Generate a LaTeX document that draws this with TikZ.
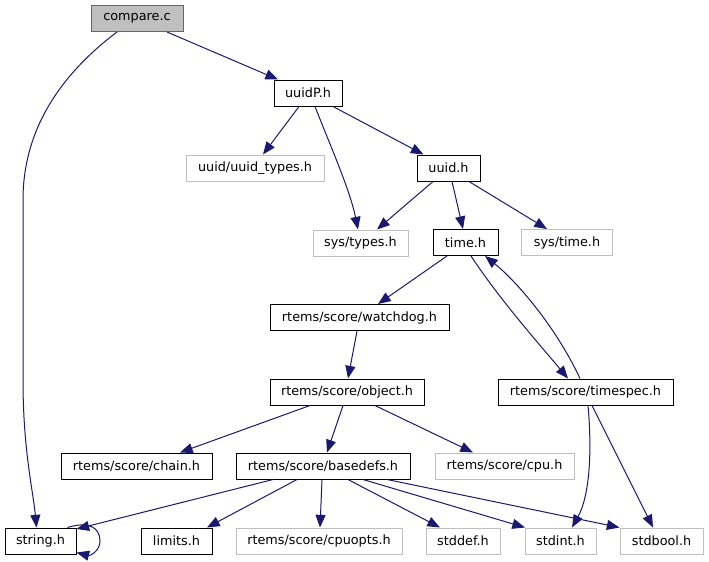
\documentclass[tikz,border=0pt]{standalone}
\usepackage{fontspec}
\setmainfont{DejaVu Sans}
\usetikzlibrary{arrows.meta}
\definecolor{edgeblue}{HTML}{191970}
\definecolor{grayfill}{HTML}{BFBFBF}
\definecolor{grayedge}{HTML}{666666}
\begin{document}
\begin{tikzpicture}[x=0.75pt,y=-0.75pt,
  box/.style={draw=black,line width=0.75pt,inner sep=0pt,minimum height=19.5pt,font=\fontsize{9.6}{11}\selectfont},
  rootbox/.style={box,draw=grayedge,fill=grayfill},
  extbox/.style={box,draw=grayfill},
  wd/.style={minimum width=#1*0.75pt},
  dep/.style={draw=edgeblue,line width=0.75pt,-{Triangle[length=9.5pt,width=7.5pt]}}]
\useasboundingbox (0,0) rectangle (709,561);
% nodes
\node[rootbox,wd=92] (compare) at (137,18.5) {compare.c};
\node[box,wd=68] (uuidP) at (308,93) {uuidP.h};
\node[extbox,wd=138] (uuidtypes) at (255,168) {uuid/uuid\_types.h};
\node[box,wd=63] (uuid) at (448.5,168) {uuid.h};
\node[extbox,wd=95] (systypes) at (360.5,243) {sys/types.h};
\node[box,wd=65] (time) at (465.5,242.5) {time.h};
\node[extbox,wd=91] (systime) at (567,242.5) {sys/time.h};
\node[box,wd=179] (watchdog) at (359.5,317.5) {rtems/score/watchdog.h};
\node[box,wd=154] (object) at (347,392) {rtems/score/object.h};
\node[box,wd=175] (timespec) at (585.5,392) {rtems/score/timespec.h};
\node[box,wd=151] (chain) at (136.5,466) {rtems/score/chain.h};
\node[box,wd=174] (basedefs) at (323,466) {rtems/score/basedefs.h};
\node[extbox,wd=139] (cpu) at (504.5,466) {rtems/score/cpu.h};
\node[box,wd=71] (string) at (40.5,541) {string.h};
\node[box,wd=71] (limits) at (176.5,541) {limits.h};
\node[extbox,wd=166] (cpuopts) at (319,541) {rtems/score/cpuopts.h};
\node[extbox,wd=74] (stddef) at (463,541) {stddef.h};
\node[extbox,wd=71] (stdint) at (560.5,541) {stdint.h};
\node[extbox,wd=83] (stdbool) at (661.5,541) {stdbool.h};
% edges
\path[dep] ([xshift=30*0.75pt]compare.south) -- ([xshift=-30*0.75pt]uuidP.north);
\path[dep] ([xshift=-20*0.75pt]compare.south) .. controls (60,75) and (23,130) .. (23,200)
  -- (23,380) .. controls (23,450) and (33,490) .. ([xshift=-4*0.75pt]string.north);
\path[dep] ([xshift=-9*0.75pt]uuidP.south) -- ([xshift=8*0.75pt]uuidtypes.north);
\path[dep] ([xshift=7*0.75pt]uuidP.south) .. controls (330,145) and (350,190) .. ([xshift=-2.5*0.75pt]systypes.north);
\path[dep] ([xshift=25*0.75pt]uuidP.south) -- ([xshift=-25*0.75pt]uuid.north);
\path[dep] ([xshift=-15.5*0.75pt]uuid.south) -- ([xshift=16.5*0.75pt]systypes.north);
\path[dep] ([xshift=3.5*0.75pt]uuid.south) -- ([xshift=-2.5*0.75pt]time.north);
\path[dep] ([xshift=20.5*0.75pt]uuid.south) -- ([xshift=-20*0.75pt]systime.north);
\path[dep] ([xshift=-18.5*0.75pt]time.south) -- ([xshift=18.5*0.75pt]watchdog.north);
\path[dep] ([xshift=5.5*0.75pt]time.south) .. controls (500,300) and (540,345) .. ([xshift=-17.5*0.75pt]timespec.north);
\path[dep] ([xshift=-5.5*0.75pt]timespec.north) .. controls (555,325) and (515,280) .. ([xshift=19.5*0.75pt]time.south);
\path[dep] ([xshift=-2.5*0.75pt]watchdog.south) -- ([xshift=1*0.75pt]object.north);
\path[dep] ([xshift=-37*0.75pt]object.south) -- ([xshift=43.5*0.75pt]chain.north);
\path[dep] ([xshift=-4*0.75pt]object.south) -- ([xshift=4*0.75pt]basedefs.north);
\path[dep] ([xshift=28*0.75pt]object.south) -- ([xshift=-31.5*0.75pt]cpu.north);
\path[dep] ([xshift=2.5*0.75pt]timespec.south) .. controls (592,450) and (590,495) .. ([xshift=11.5*0.75pt]stdint.north);
\path[dep] ([xshift=6.5*0.75pt]timespec.south) -- ([xshift=-8.5*0.75pt]stdbool.north);
\path[dep] ([xshift=-50*0.75pt]basedefs.south) -- ([yshift=-1.5*0.75pt]string.north east);
\path[dep] ([xshift=-26*0.75pt]basedefs.south) -- ([xshift=30.5*0.75pt]limits.north);
\path[dep] ([xshift=-1*0.75pt]basedefs.south) -- ([xshift=1*0.75pt]cpuopts.north);
\path[dep] ([xshift=25*0.75pt]basedefs.south) -- ([xshift=-23*0.75pt]stddef.north);
\path[dep] ([xshift=40*0.75pt]basedefs.south) -- ([xshift=-35.5*0.75pt]stdint.north);
\path[dep] ([xshift=64*0.75pt]basedefs.south) -- ([xshift=-42*0.75pt]stdbool.north);
\path[dep] ([xshift=-9*0.75pt]string.north east) .. controls (88,521) and (100,527) .. (100,541)
  .. controls (100,551) and (90,556) .. ([yshift=2*0.75pt]string.south east);
\end{tikzpicture}
\end{document}
